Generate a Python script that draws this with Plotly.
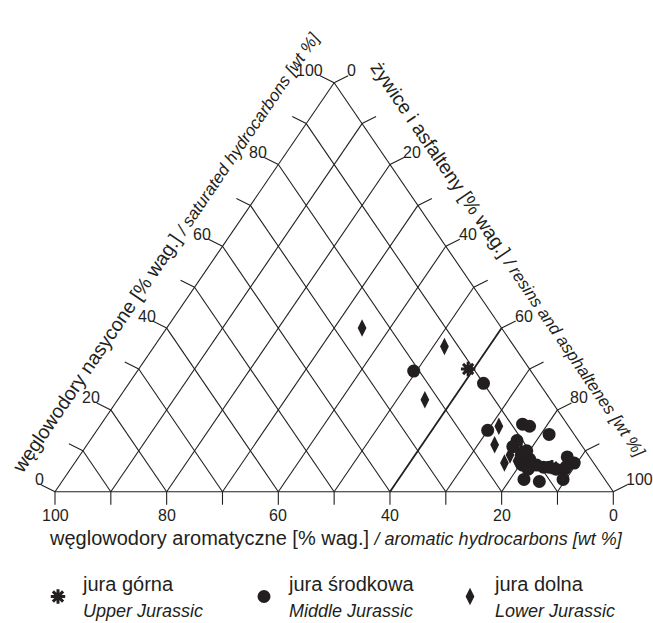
import plotly.graph_objects as go

# Bulk composition of extracts [wt %]: aromatic, saturated, resins + asphaltenes
upper_aro = [11, 8, 11.5]
upper_sat = [30, 6, 10]
upper_res = [59, 86, 78.5]

middle_aro = [21, 10, 15, 8, 7, 4.5, 11, 12.5, 10.5, 11, 13, 12, 10.5, 9.5, 8.5,
              7.5, 6, 4, 3.5, 5.5, 14.5, 12, 7.5, 12.5]
middle_sat = [29.5, 26.5, 15, 16.5, 16, 14, 12.5, 11, 10, 8, 6.5, 9, 6.5, 6, 6,
              5.5, 5.5, 8.5, 7, 6, 3, 2.5, 3, 5.5]
middle_res = [49.5, 63.5, 70, 75.5, 77, 81.5, 76.5, 76.5, 79.5, 81, 80.5, 79, 83, 84.5, 85.5,
              87, 88.5, 87.5, 89.5, 88.5, 82.5, 85.5, 89.5, 82]

lower_aro = [25, 12.5, 22.5, 12.5, 15.5, 16, 14, 13.5]
lower_sat = [40, 35.5, 22.5, 16, 11.5, 7, 9, 7.5]
lower_res = [35, 52, 55, 71.5, 73, 77, 77, 79]

grid_steps = list(range(10, 100, 10))
tick_steps = list(range(0, 101, 10))
tick_labels = [0, 20, 40, 60, 80, 100]

INK = "#231f20"
FONT = "Liberation Sans, Arial, sans-serif"
W, H = 653, 623
X_RANGE = [-9.851, 107.11]
Y_RANGE = [-32.10, 120.22]
PX_X = W / (X_RANGE[1] - X_RANGE[0])   # pixels per x unit
PX_Y = H / (Y_RANGE[1] - Y_RANGE[0])   # pixels per y unit


def to_xy(aro, sat, res):
    """Ternary composition -> plane coordinates (aromatic apex bottom-left)."""
    t = aro + sat + res
    s, r = 100.0 * sat / t, 100.0 * res / t
    return r + s / 2.0, s


def series(aro, sat, res):
    pts = [to_xy(a, s, r) for a, s, r in zip(aro, sat, res)]
    return [p[0] for p in pts], [p[1] for p in pts]


def segments(pairs):
    xs, ys = [], []
    for p, q in pairs:
        xs += [p[0], q[0], None]
        ys += [p[1], q[1], None]
    return xs, ys


fig = go.Figure()

# outline and rhombic grid (constant aromatic / constant resin lines)
outline = [(to_xy(100, 0, 0), to_xy(0, 0, 100)),
           (to_xy(0, 0, 100), to_xy(0, 100, 0)),
           (to_xy(0, 100, 0), to_xy(100, 0, 0))]
grid = []
for v in grid_steps:
    grid.append((to_xy(v, 0, 100 - v), to_xy(v, 100 - v, 0)))
    if v != 60:
        grid.append((to_xy(100 - v, 0, v), to_xy(0, 100 - v, v)))

# tick marks
tl = 14 / PX_X, 7 / PX_Y
ticks = []
for v in tick_steps:
    bx, by = to_xy(v, 0, 100 - v)
    ticks.append(((bx, by), (bx, by - 13 / PX_Y)))
    lx, ly = to_xy(100 - v, v, 0)
    ticks.append(((lx, ly), (lx - tl[0], ly + tl[1])))
    rx, ry = to_xy(0, 100 - v, v)
    ticks.append(((rx, ry), (rx + tl[0], ry + tl[1])))

for pairs, width in ((outline + grid + ticks, 1.1),
                     ([(to_xy(40, 0, 60), to_xy(0, 40, 60))], 1.8)):
    gx, gy = segments(pairs)
    fig.add_trace(go.Scatter(x=gx, y=gy, mode="lines", line=dict(color=INK, width=width),
                             hoverinfo="skip", showlegend=False))

# samples
mx, my = series(middle_aro, middle_sat, middle_res)
lx_, ly_ = series(lower_aro, lower_sat, lower_res)
ux, uy = series(upper_aro, upper_sat, upper_res)

leg_small = "<span style='font-size:18px'><i>%s</i></span>"
fig.add_trace(go.Scatter(
    x=ux, y=uy, mode="markers",
    name="jura górna<br>" + leg_small % "Upper Jurassic",
    marker=dict(symbol="asterisk-open", size=12, color=INK, line=dict(color=INK, width=3))))
fig.add_trace(go.Scatter(
    x=mx, y=my, mode="markers",
    name="jura środkowa<br>" + leg_small % "Middle Jurassic",
    marker=dict(symbol="circle", size=13, color=INK, line=dict(width=0))))
fig.add_trace(go.Scatter(
    x=lx_, y=ly_, mode="markers",
    name="jura dolna<br>" + leg_small % "Lower Jurassic",
    marker=dict(symbol="diamond-tall", size=12.5, color=INK, line=dict(width=0))))

ann = []
lab_font = dict(family=FONT, size=16, color=INK)
for v in tick_labels:
    bx, by = to_xy(v, 0, 100 - v)
    ann.append(dict(x=bx, y=by, text=str(v), showarrow=False, font=lab_font,
                    xanchor="center", yanchor="middle", yshift=-24))
    lx, ly = to_xy(100 - v, v, 0)
    ann.append(dict(x=lx - tl[0], y=ly + tl[1], text=str(v), showarrow=False, font=lab_font,
                    xanchor="right", yanchor="middle", xshift=5, yshift=5))
    rx, ry = to_xy(0, 100 - v, v)
    ann.append(dict(x=rx + tl[0], y=ry + tl[1], text=str(v), showarrow=False, font=lab_font,
                    xanchor="left", yanchor="middle", xshift=-3, yshift=5))

title_font = dict(family=FONT, size=20, color=INK)
side_font = dict(family=FONT, size=19.5, color=INK)
small = "<span style='font-size:18px'><i>%s</i></span>"
side_small = "<span style='font-size:17px'><i>%s</i></span>"
bx, by = to_xy(50, 0, 50)
ann.append(dict(x=bx, y=by, text="węglowodory aromatyczne [% wag.] " +
                small % "/ aromatic hydrocarbons [wt %]",
                showarrow=False, font=title_font, xanchor="center", yanchor="middle",
                xshift=2, yshift=-46))
cx, cy = to_xy(50, 50, 0)
ann.append(dict(x=cx, y=cy, text="węglowodory nasycone [% wag.] " +
                side_small % "/ saturated hydrocarbons [wt %]",
                showarrow=False, font=side_font, textangle=-55.7,
                xanchor="center", yanchor="middle", xshift=-29, yshift=35))
cx, cy = to_xy(0, 50, 50)
ann.append(dict(x=cx, y=cy, text="żywice i asfalteny [% wag.] " +
                side_small % "/ resins and asphaltenes [wt %]",
                showarrow=False, font=side_font, textangle=55.7,
                xanchor="center", yanchor="middle", xshift=35, yshift=28))

fig.update_layout(
    width=W, height=H, margin=dict(l=0, r=0, t=0, b=0, autoexpand=False),
    paper_bgcolor="white", plot_bgcolor="white",
    xaxis=dict(range=X_RANGE, visible=False, fixedrange=True),
    yaxis=dict(range=Y_RANGE, visible=False, fixedrange=True),
    annotations=ann,
    showlegend=True,
    legend=dict(orientation="h", x=33 / W, xanchor="left", y=1 - 564 / H, yanchor="top",
                itemwidth=40, entrywidth=151, entrywidthmode="pixels",
                font=dict(family=FONT, size=20, color=INK), bgcolor="rgba(0,0,0,0)",
                itemclick=False, itemdoubleclick=False),
)

fig.write_html("out.html")
